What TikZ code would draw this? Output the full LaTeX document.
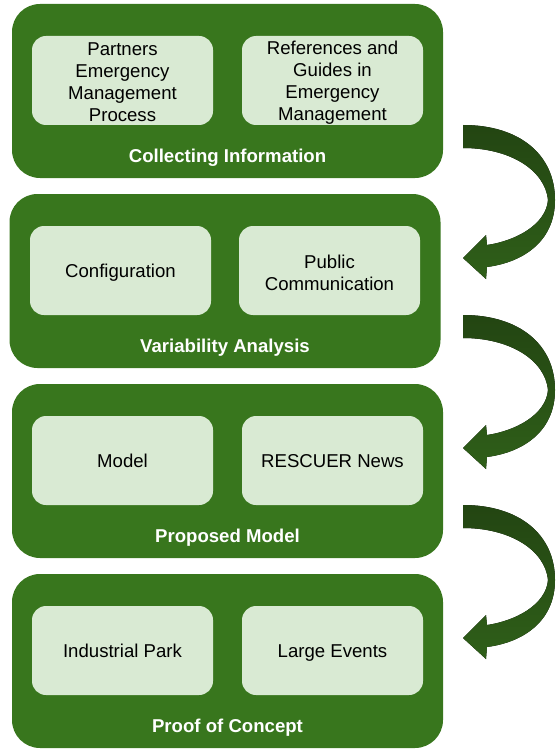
\documentclass[tikz,border=0pt]{standalone}
\usepackage{fontspec}
\setmainfont{Liberation Sans}
\definecolor{boxgreen}{HTML}{38761D}
\definecolor{innergreen}{HTML}{D9EAD3}
\definecolor{arrowtop}{HTML}{234512}
\definecolor{arrowbot}{HTML}{2F5F19}
\tikzset{
  outerbox/.style={fill=boxgreen, draw=none, rounded corners=28pt, minimum width=431pt, minimum height=174pt, inner sep=0pt},
  innerbox/.style={fill=innergreen, draw=none, rounded corners=14pt, minimum width=181pt, minimum height=89pt, inner sep=0pt},
  innertext/.style={align=center, font=\fontsize{18.6}{22}\selectfont, text=black, inner sep=0pt},
  oneline/.style={innertext, text height=13.4pt, text depth=3.6pt},
  boxlabel/.style={font=\fontsize{18.6}{22}\selectfont\bfseries, text=white, inner sep=0pt, text height=13.4pt, text depth=3.6pt},
  curvearrow/.style={top color=arrowtop, bottom color=arrowbot, draw=none}
}
\begin{document}
\begin{tikzpicture}[x=1pt,y=-1pt]
\useasboundingbox (0,0) rectangle (558,754);
% outer boxes
\node[outerbox] (b1) at (227.5,91) {};
\node[outerbox] (b2) at (225,281) {};
\node[outerbox] (b3) at (227.5,471) {};
\node[outerbox] (b4) at (227.5,661) {};
% inner boxes
\node[innerbox] (b1l) at (122.5,80.5) {};
\node[innerbox] (b1r) at (332.5,80.5) {};
\node[innerbox] (b2l) at (120.5,270.5) {};
\node[innerbox] (b2r) at (329.5,270.5) {};
\node[innerbox] (b3l) at (122.5,460.5) {};
\node[innerbox] (b3r) at (332.5,460.5) {};
\node[innerbox] (b4l) at (122.5,650.5) {};
\node[innerbox] (b4r) at (332.5,650.5) {};
% inner texts
\node[innertext] (t1l) at ([yshift=-2pt]b1l.center) {Partners\\Emergency\\Management\\Process};
\node[innertext] (t1r) at ([yshift=-2pt]b1r.center) {References and\\Guides in\\Emergency\\Management};
\node[oneline] (t2l) at ([yshift=-2pt]b2l.center) {Configuration};
\node[innertext] (t2r) at ([yshift=-2pt]b2r.center) {Public\\Communication};
\node[oneline] (t3l) at ([yshift=-2pt]b3l.center) {Model};
\node[oneline] (t3r) at ([yshift=-2pt]b3r.center) {RESCUER News};
\node[oneline] (t4l) at ([yshift=-2pt]b4l.center) {Industrial Park};
\node[oneline] (t4r) at ([yshift=-2pt]b4r.center) {Large Events};
% labels
\node[boxlabel] (l1) at (227.5,158) {Collecting Information};
\node[boxlabel] (l2) at (225,348) {Variability Analysis};
\node[boxlabel] (l3) at (227.5,538) {Proposed Model};
\node[boxlabel] (l4) at (227.5,728) {Proof of Concept};
% curved arrows
\foreach \dy in {0,190,380}{
\begin{scope}[yshift=-\dy pt]
\fill[curvearrow] (463,125) .. controls (520,125) and (555,155) .. (555,200)
  .. controls (555,240) and (525,262) .. (487,267)
  -- (486,279) -- (463,258) -- (486,235) -- (487,245)
  .. controls (515,241) and (546,225) .. (548,200)
  .. controls (545,170) and (510,148) .. (463,148) -- cycle;
\end{scope}
}
\end{tikzpicture}
\end{document}
